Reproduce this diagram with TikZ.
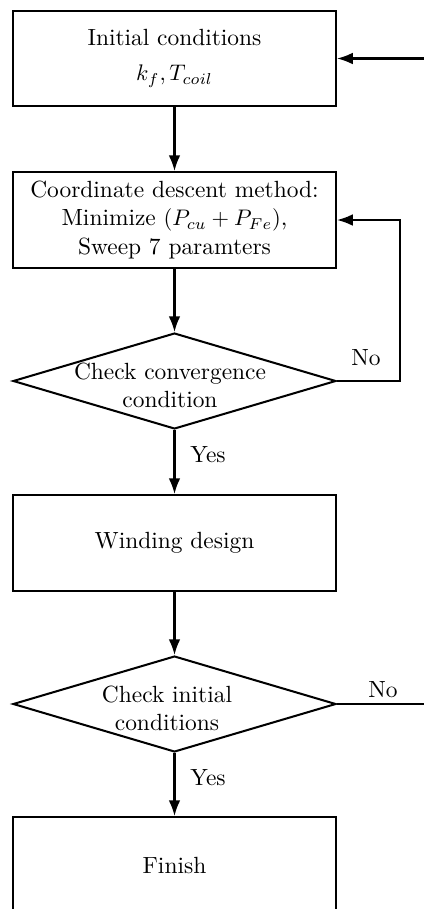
\documentclass[tikz,border=0pt]{standalone}
\usetikzlibrary{shapes.geometric,arrows.meta}
\begin{document}
\begin{tikzpicture}[x=0.444pt,y=-0.444pt,
  every node/.style={font=\fontsize{10.4}{12.5}\selectfont},
  box/.style={draw,line width=0.9pt,minimum width=143.4pt,minimum height=42.6pt,inner sep=0pt,align=center},
  dia/.style={draw,diamond,line width=0.9pt,minimum width=143.4pt,minimum height=42.6pt,inner sep=0pt},
  txt/.style={align=center,inner sep=0pt},
  arr/.style={line width=0.9pt,-{Latex[length=7pt,width=5.2pt]}}]
\clip (0,0) rectangle (424,909);
\useasboundingbox (0,0) rectangle (424,909);
\node[box] (b1) at (174.5,58.5) {Initial conditions\\[3pt] $k_f, T_{coil}$};
\node[box] (b2) at (174.5,220) {Coordinate descent method:\\ Minimize $(P_{cu}+P_{Fe})$,\\ Sweep 7 paramters};
\node[dia] (d1) at (174.5,381) {};
\node[txt] (t1) at (170,385) {Check convergence\\condition};
\node[box] (b3) at (174.5,543) {Winding design};
\node[dia] (d2) at (174.5,704) {};
\node[txt] (t2) at (167,708) {Check initial\\conditions};
\node[box] (b4) at (174.5,865) {Finish};
\node[txt] (y1) at (208,455) {Yes};
\node[txt] (y2) at (208,778) {Yes};
\node[txt] (n1) at (366,358) {No};
\node[txt] (n2) at (383,690) {No};
\coordinate (c1) at (400,220);
\coordinate (c2) at (430,704);
\coordinate (c3) at (430,58.5);
\draw[arr] (b1) -- (b2);
\draw[arr] (b2) -- (d1);
\draw[arr] (d1) -- (b3);
\draw[arr] (b3) -- (d2);
\draw[arr] (d2) -- (b4);
\draw[arr] (d1.east) -| (c1) -- (b2.east);
\draw[arr] (d2.east) -- (c2) -- (c3) -- (b1.east);
\end{tikzpicture}
\end{document}
